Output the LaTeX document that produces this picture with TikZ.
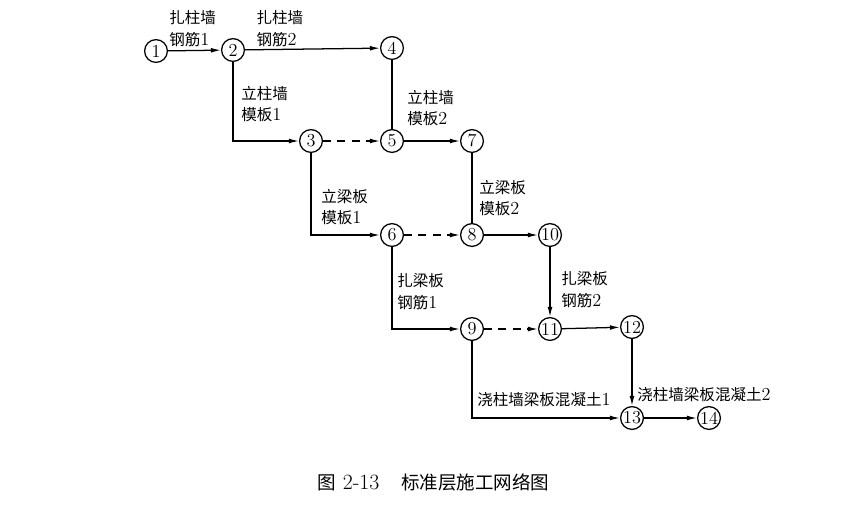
\documentclass[tikz,border=0pt]{standalone}
\usepackage{fontspec}
\usepackage{tikz}
\usetikzlibrary{arrows.meta}
\newfontfamily\cjk[Scale=0.85]{Noto Sans CJK SC}

\begin{document}
\begin{tikzpicture}[line width=0.9pt,
    ev/.style={circle,draw,minimum size=0.57cm,inner sep=0pt,font=\fontsize{13pt}{13pt}\selectfont},
    job/.style={anchor=west,align=left,font=\fontsize{13pt}{15.5pt}\selectfont},
    act/.style={-{Latex[length=2.5mm,width=1.2mm]}},
    dum/.style={act,dashed,dash pattern=on 2mm off 1.6mm}]
    \useasboundingbox (0,0) rectangle (21.45,-12.75);

    \node at (3.9,-1.275) [ev] (n1) {1};
    \node at (5.825,-1.25) [ev] (n2) {2};
    \node at (9.8,-1.2) [ev] (n4) {4};

    \node at (7.775,-3.525) [ev] (n3) {3};
    \node at (9.8,-3.525) [ev] (n5) {5};
    \node at (11.8,-3.525) [ev] (n7) {7};

    \node at (9.8,-5.875) [ev] (n6) {6};
    \node at (11.8,-5.875) [ev] (n8) {8};
    \node at (13.75,-5.875) [ev] (n10) {10};

    \node at (11.8,-8.225) [ev] (n9) {9};
    \node at (13.75,-8.225) [ev] (n11) {11};
    \node at (15.8,-8.175) [ev] (n12) {12};

    \node at (15.8,-10.45) [ev] (n13) {13};
    \node at (17.725,-10.45) [ev] (n14) {14};

    % work names
    \node at (4.1,-0.725) [job] (l12) {{\cjk 扎柱墙}\\{\cjk 钢筋}1};
    \node at (6.28,-0.725) [job] (l24) {{\cjk 扎柱墙}\\{\cjk 钢筋}2};
    \node at (5.9,-2.6) [job] (l23) {{\cjk 立柱墙}\\{\cjk 模板}1};
    \node at (10.05,-2.7) [job] (l57) {{\cjk 立柱墙}\\{\cjk 模板}2};
    \node at (7.9,-5.175) [job] (l36) {{\cjk 立梁板}\\{\cjk 模板}1};
    \node at (11.85,-4.95) [job] (l810) {{\cjk 立梁板}\\{\cjk 模板}2};
    \node at (9.8,-7.3) [job] (l69) {{\cjk 扎梁板}\\{\cjk 钢筋}1};
    \node at (13.9,-7.25) [job] (l1011) {{\cjk 扎梁板}\\{\cjk 钢筋}2};
    \node at (11.8,-10.0) [job] (l913) {{\cjk 浇柱墙梁板混凝土}1};
    \node at (15.8,-9.875) [job] (l1213) {{\cjk 浇柱墙梁板混凝土}2};

    \node at (10.84,-12.05) [font=\fontsize{15.5pt}{15.5pt}\selectfont] (cap) {{\cjk 图} 2-13\quad{\cjk 标准层施工网络图}};

    \draw[act] (n1) -- (n2);
    \draw[act] (n2) -- (n4);
    \draw[act] (n2) |- (n3);
    \draw (n4) -- (n5);
    \draw[dum] (n3) -- (n5);
    \draw[act] (n5) -- (n7);
    \draw[act] (n3) |- (n6);
    \draw (n7) -- (n8);
    \draw[dum] (n6) -- (n8);
    \draw[act] (n8) -- (n10);
    \draw[act] (n6) |- (n9);
    \draw[act] (n10) -- (n11);
    \draw[dum] (n9) -- (n11);
    \draw[act] (n11) -- (n12);
    \draw[act] (n12) -- (n13);
    \draw[act] (n9) |- (n13);
    \draw[act] (n13) -- (n14);
\end{tikzpicture}
\end{document}
